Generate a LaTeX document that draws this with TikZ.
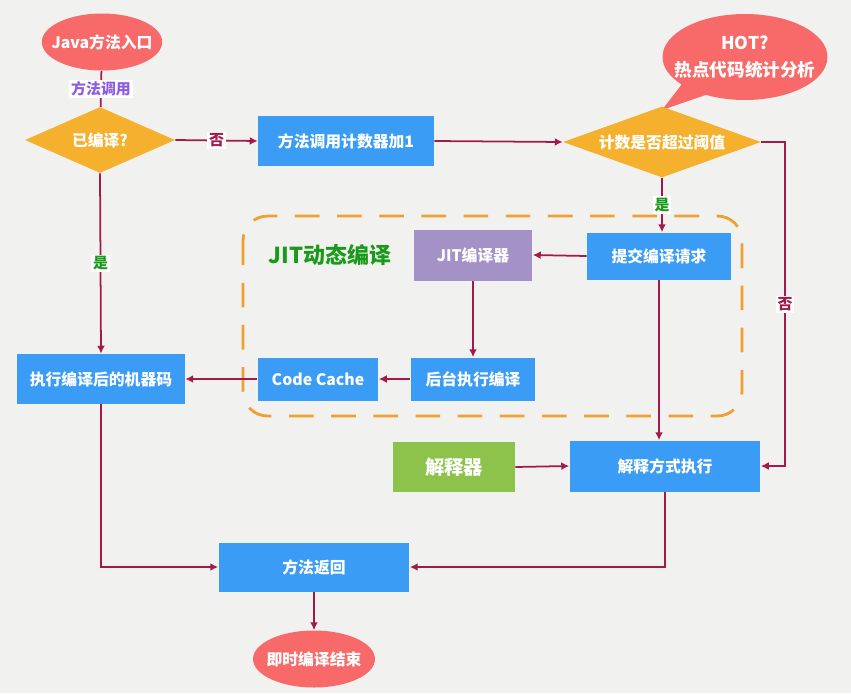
\documentclass[tikz,border=0pt]{standalone}
\usepackage{fontspec}
\setmainfont{Noto Sans CJK SC}
\usetikzlibrary{shapes.geometric,shapes.callouts,arrows.meta}
\definecolor{bgc}{HTML}{F1F1EF}
\definecolor{redell}{HTML}{F86A6A}
\definecolor{orgdia}{HTML}{F5B02E}
\definecolor{boxblue}{HTML}{3A9CF5}
\definecolor{jitpurple}{HTML}{A491C6}
\definecolor{intgreen}{HTML}{8DC34B}
\definecolor{txtgreen}{HTML}{1A9A1A}
\definecolor{lblpurple}{HTML}{8E5BE8}
\definecolor{conncol}{HTML}{A3194B}
\definecolor{dashorange}{HTML}{F0A030}
\begin{document}
\begin{tikzpicture}[x=0.02cm,y=-0.02cm,
  boxfont/.style={font=\bfseries\fontsize{9}{11}\selectfont},
  box/.style={rectangle,fill=boxblue,text=white,boxfont,inner sep=0pt},
  jitbox/.style={box,fill=jitpurple},
  greenbox/.style={box,fill=intgreen,font=\bfseries\fontsize{11}{13}\selectfont},
  termell/.style={ellipse,fill=redell,text=white,boxfont,inner ysep=0pt,inner xsep=-4.5pt},
  decide/.style={diamond,fill=orgdia,text=white,boxfont,inner sep=0pt,aspect=2.8},
  conn/.style={draw=conncol,line width=1pt,-{Latex[length=4.5pt,width=4.5pt]}},
  plainconn/.style={draw=conncol,line width=1pt},
  lab/.style={fill=white,inner sep=1pt,font=\bfseries\fontsize{8.5}{10}\selectfont},
  nolab/.style={lab,text=conncol},
  yeslab/.style={lab,text=txtgreen},
  calllab/.style={lab,text=lblpurple}
]
\fill[bgc] (0,0) rectangle (851,693);
\useasboundingbox (0,0) rectangle (851,693);

% dashed JIT region
\draw[dashorange,line width=1.6pt,dash pattern=on 14pt off 10pt,rounded corners=14pt]
  (243,216) rectangle (742,416);
\node[text=txtgreen,font=\bfseries\fontsize{12.5}{14}\selectfont] (jittitle) at (330,255) {JIT动态编译};

% nodes
\node[termell,minimum width=2.4cm,minimum height=1.14cm] (entry) at (102,42) {Java方法入口};
\node[decide,minimum width=3.0cm,minimum height=1.32cm] (c1) at (100,140) {已编译?};
\node[box,minimum width=3.52cm,minimum height=1.02cm] (count) at (346,141) {方法调用计数器加1};
\node[ellipse callout,fill=redell,text=white,align=center,inner xsep=-8pt,inner ysep=0pt,
  minimum width=3.3cm,minimum height=1.72cm,callout pointer arc=22,
  callout absolute pointer={(662,110)},font=\bfseries\fontsize{10}{15}\selectfont]
  (hot) at (745,57) {HOT?\\热点代码统计分析};
\node[decide,minimum width=3.96cm,minimum height=1.42cm] (c2) at (662,142) {计数是否超过阈值};
\node[box,minimum width=2.88cm,minimum height=0.94cm] (submit) at (659,256) {提交编译请求};
\node[jitbox,minimum width=2.38cm,minimum height=1.02cm] (jit) at (473,255) {JIT编译器};
\node[box,minimum width=2.5cm,minimum height=0.86cm] (bg) at (473,379) {后台执行编译};
\node[box,minimum width=2.42cm,minimum height=0.86cm] (cc) at (318,379) {Code Cache};
\node[box,minimum width=3.36cm,minimum height=1.0cm] (exec) at (101,379) {执行编译后的机器码};
\node[greenbox,minimum width=2.44cm,minimum height=1.0cm] (interpreter) at (454,467) {解释器};
\node[box,minimum width=3.82cm,minimum height=1.02cm] (interp) at (665,466) {解释方式执行};
\node[box,minimum width=3.82cm,minimum height=0.98cm] (ret) at (314,567) {方法返回};
\node[termell,minimum width=2.44cm,minimum height=1.14cm] (end) at (314,659) {即时编译结束};

\coordinate (r1) at (785,142);

% connectors
\draw[plainconn] (entry) -- node[calllab]{方法调用} (c1);
\draw[conn] (c1.east) -- node[nolab]{否} (count.west);
\draw[conn] (count.east) -- (c2.west);
\draw[conn] (c2.south) -- node[yeslab]{是} (c2.south |- submit.north);
\draw[conn] (submit.west) -- (jit.east);
\draw[conn] (jit.south) -- (bg.north);
\draw[conn] (bg.west) -- (cc.east);
\draw[conn] (cc.west) -- (exec.east);
\draw[conn] (c1.south) -- node[yeslab]{是} (exec.north);
\draw[conn] (submit.south) -- (submit.south |- interp.north);
\draw[conn] (c2.east) -- (r1) |- node[nolab,pos=0.25]{否} (interp.east);
\draw[conn] (interpreter.east) -- (interp.west);
\draw[conn] (exec.south) |- (ret.west);
\draw[conn] (interp.south) |- (ret.east);
\draw[conn] (ret.south) -- (end.north);
\end{tikzpicture}
\end{document}
